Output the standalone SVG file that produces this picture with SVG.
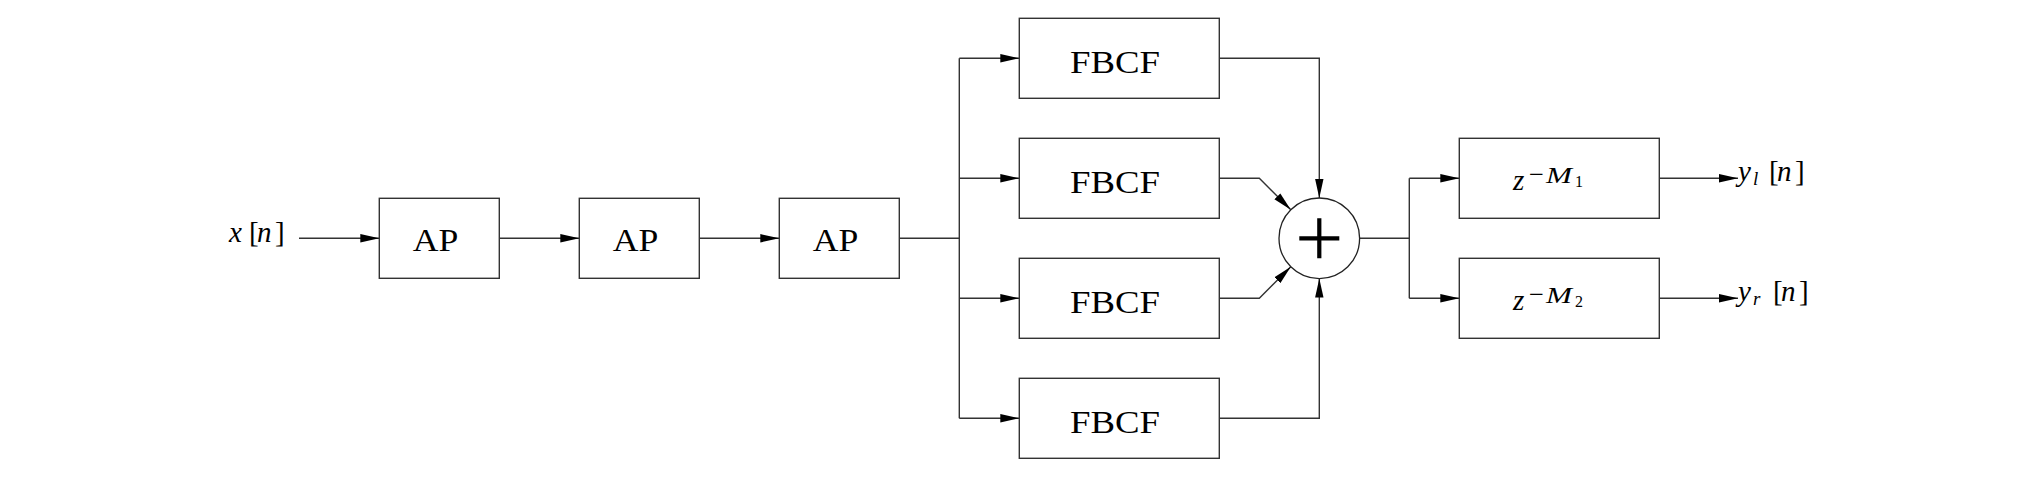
<svg xmlns="http://www.w3.org/2000/svg" width="2044" height="497" viewBox="0 0 2044 497">
<defs>
<marker id="arr" markerUnits="userSpaceOnUse" markerWidth="20" markerHeight="10" refX="19" refY="5" orient="auto" viewBox="0 0 20 10"><path d="M0,0.8 L19,5 L0,9.2 Z" fill="#000"/></marker>
<style>
.box{fill:#fff;stroke:#333;stroke-width:1.4}
.ln{fill:none;stroke:#333;stroke-width:1.4}
.lbl{font-family:"Liberation Serif",serif;font-size:30.5px;fill:#000;text-anchor:middle}
.m{font-family:"Liberation Serif",serif;fill:#000}
.it{font-style:italic}
</style>
</defs>
<rect width="2044" height="497" fill="#fff"/>
<g id="connectors">
<path class="ln" d="M299,238.3 H379.3" marker-end="url(#arr)"/>
<path class="ln" d="M499.3,238.3 H579.3" marker-end="url(#arr)"/>
<path class="ln" d="M699.3,238.3 H779.3" marker-end="url(#arr)"/>
<path class="ln" d="M899.3,238.3 H959.3 M959.3,58.3 V418.3"/>
<path class="ln" d="M959.3,58.3 H1019.3" marker-end="url(#arr)"/>
<path class="ln" d="M959.3,178.3 H1019.3" marker-end="url(#arr)"/>
<path class="ln" d="M959.3,298.3 H1019.3" marker-end="url(#arr)"/>
<path class="ln" d="M959.3,418.3 H1019.3" marker-end="url(#arr)"/>
<path class="ln" d="M1219.3,58.3 H1319.3 V198" marker-end="url(#arr)"/>
<path class="ln" d="M1219.3,178.3 H1259.3 L1290.8,209.8" marker-end="url(#arr)"/>
<path class="ln" d="M1219.3,298.3 H1259.3 L1290.8,266.8" marker-end="url(#arr)"/>
<path class="ln" d="M1219.3,418.3 H1319.3 V278.6" marker-end="url(#arr)"/>
<path class="ln" d="M1359.6,238.3 H1409.3 M1409.3,178.3 V298.3"/>
<path class="ln" d="M1409.3,178.3 H1459.3" marker-end="url(#arr)"/>
<path class="ln" d="M1409.3,298.3 H1459.3" marker-end="url(#arr)"/>
<path class="ln" d="M1659.3,178.3 H1738" marker-end="url(#arr)"/>
<path class="ln" d="M1659.3,298.3 H1738" marker-end="url(#arr)"/>
</g>
<g id="input"><text class="m" y="241.5" font-size="29"><tspan class="it" x="229">x</tspan><tspan x="249">[</tspan><tspan class="it" x="257">n</tspan><tspan x="275">]</tspan></text></g>
<g id="ap1"><rect class="box" x="379.3" y="198.3" width="120" height="80"/><text class="lbl" x="435.5" y="250.5" textLength="45.6" lengthAdjust="spacingAndGlyphs">AP</text></g>
<g id="ap2"><rect class="box" x="579.3" y="198.3" width="120" height="80"/><text class="lbl" x="635.5" y="250.5" textLength="45.6" lengthAdjust="spacingAndGlyphs">AP</text></g>
<g id="ap3"><rect class="box" x="779.3" y="198.3" width="120" height="80"/><text class="lbl" x="835.5" y="250.5" textLength="45.6" lengthAdjust="spacingAndGlyphs">AP</text></g>
<g id="fbcf1"><rect class="box" x="1019.3" y="18.3" width="200" height="80"/><text class="lbl" x="1115" y="72.7" textLength="90" lengthAdjust="spacingAndGlyphs">FBCF</text></g>
<g id="fbcf2"><rect class="box" x="1019.3" y="138.3" width="200" height="80"/><text class="lbl" x="1115" y="192.7" textLength="90" lengthAdjust="spacingAndGlyphs">FBCF</text></g>
<g id="fbcf3"><rect class="box" x="1019.3" y="258.3" width="200" height="80"/><text class="lbl" x="1115" y="312.7" textLength="90" lengthAdjust="spacingAndGlyphs">FBCF</text></g>
<g id="fbcf4"><rect class="box" x="1019.3" y="378.3" width="200" height="80"/><text class="lbl" x="1115" y="432.7" textLength="90" lengthAdjust="spacingAndGlyphs">FBCF</text></g>
<g id="sum"><circle cx="1319.3" cy="238.3" r="40.3" fill="#fff" stroke="#222" stroke-width="1.3"/><path d="M1299.3,238.3 H1339.3 M1319.3,218.3 V258.3" stroke="#000" stroke-width="4.2" fill="none"/></g>
<g id="delay1"><rect class="box" x="1459.3" y="138.3" width="200" height="80"/>
<text class="m it" x="1513" y="190" font-size="29">z</text>
<text class="m" x="1529" y="183.3" font-size="26" textLength="15" lengthAdjust="spacingAndGlyphs">−</text>
<text class="m it" x="1546" y="183.3" font-size="23" textLength="26" lengthAdjust="spacingAndGlyphs">M</text>
<text class="m" x="1575" y="187.3" font-size="16">1</text></g>
<g id="delay2"><rect class="box" x="1459.3" y="258.3" width="200" height="80"/>
<text class="m it" x="1513" y="310" font-size="29">z</text>
<text class="m" x="1529" y="303.3" font-size="26" textLength="15" lengthAdjust="spacingAndGlyphs">−</text>
<text class="m it" x="1546" y="303.3" font-size="23" textLength="26" lengthAdjust="spacingAndGlyphs">M</text>
<text class="m" x="1575" y="307.3" font-size="16">2</text></g>
<g id="out_l"><text class="m"><tspan class="it" x="1738" y="181" font-size="29">y</tspan><tspan class="it" x="1753" y="185" font-size="19">l</tspan><tspan x="1769" y="181" font-size="29">[</tspan><tspan class="it" x="1777" y="181" font-size="29">n</tspan><tspan x="1795" y="181" font-size="29">]</tspan></text></g>
<g id="out_r"><text class="m"><tspan class="it" x="1738" y="301" font-size="29">y</tspan><tspan class="it" x="1753" y="305" font-size="19">r</tspan><tspan x="1773" y="301" font-size="29">[</tspan><tspan class="it" x="1781" y="301" font-size="29">n</tspan><tspan x="1799" y="301" font-size="29">]</tspan></text></g>
</svg>
